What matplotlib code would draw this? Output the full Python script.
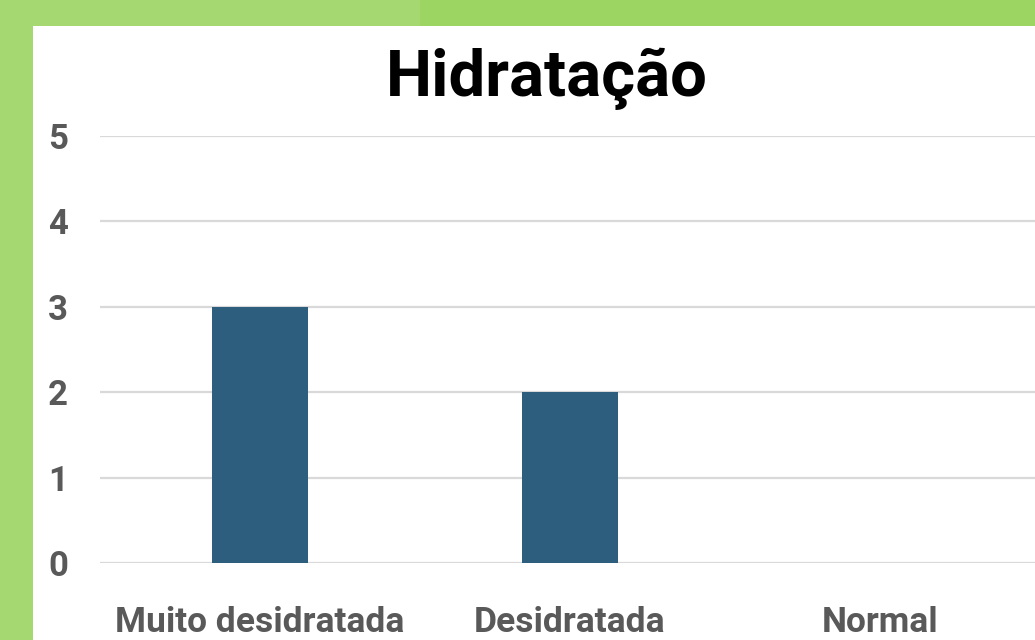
import matplotlib.pyplot as plt
from matplotlib.patches import Rectangle

# Data
categories = ['Muito desidratada', 'Desidratada', 'Normal']
counts = [3, 2, 0]
y_ticks = [0, 1, 2, 3, 4, 5]

W, H = 1035, 640
fig = plt.figure(figsize=(W / 100, H / 100), dpi=100)
fig.patch.set_facecolor('#a6d872')

# darker green on top right, white card (kept below the axes)
fig.patches.append(Rectangle((420 / W, 0), 1, 1, transform=fig.transFigure,
                             facecolor='#9dd563', edgecolor='none', zorder=-2))
fig.patches.append(Rectangle((33 / W, 0), 1, (H - 26) / H, transform=fig.transFigure,
                             facecolor='white', edgecolor='none', zorder=-1))

ax = fig.add_axes([100 / W, (H - 563) / H, (W - 100) / W, 427 / H])
ax.set_facecolor('none')
ax.bar(range(len(categories)), counts, width=0.31, color='#2e5e7e', zorder=3)
ax.set_xlim(-0.516, 2.5)
ax.set_ylim(0, 5)
ax.set_yticks(y_ticks)
ax.grid(axis='y', color='#d9d9d9', linewidth=1.6, zorder=0)
ax.set_axisbelow(True)
for s in ax.spines.values():
    s.set_visible(False)
ax.tick_params(length=0)
ax.set_xticks(range(len(categories)))
ax.set_xticklabels(categories, fontsize=25.5, fontweight='bold', color='#595959',
                   family='Roboto')
ax.tick_params(axis='x', pad=31)
ax.set_yticklabels([str(v) for v in y_ticks], fontsize=25, fontweight='bold',
                   color='#595959', family='Roboto')
ax.tick_params(axis='y', pad=23)

fig.text(547 / W, 1 - 79 / H, 'Hidratação', ha='center', va='center',
         fontsize=47, fontweight='bold', family='Roboto', color='black')

fig.savefig('out.png', dpi=100, facecolor=fig.get_facecolor())
